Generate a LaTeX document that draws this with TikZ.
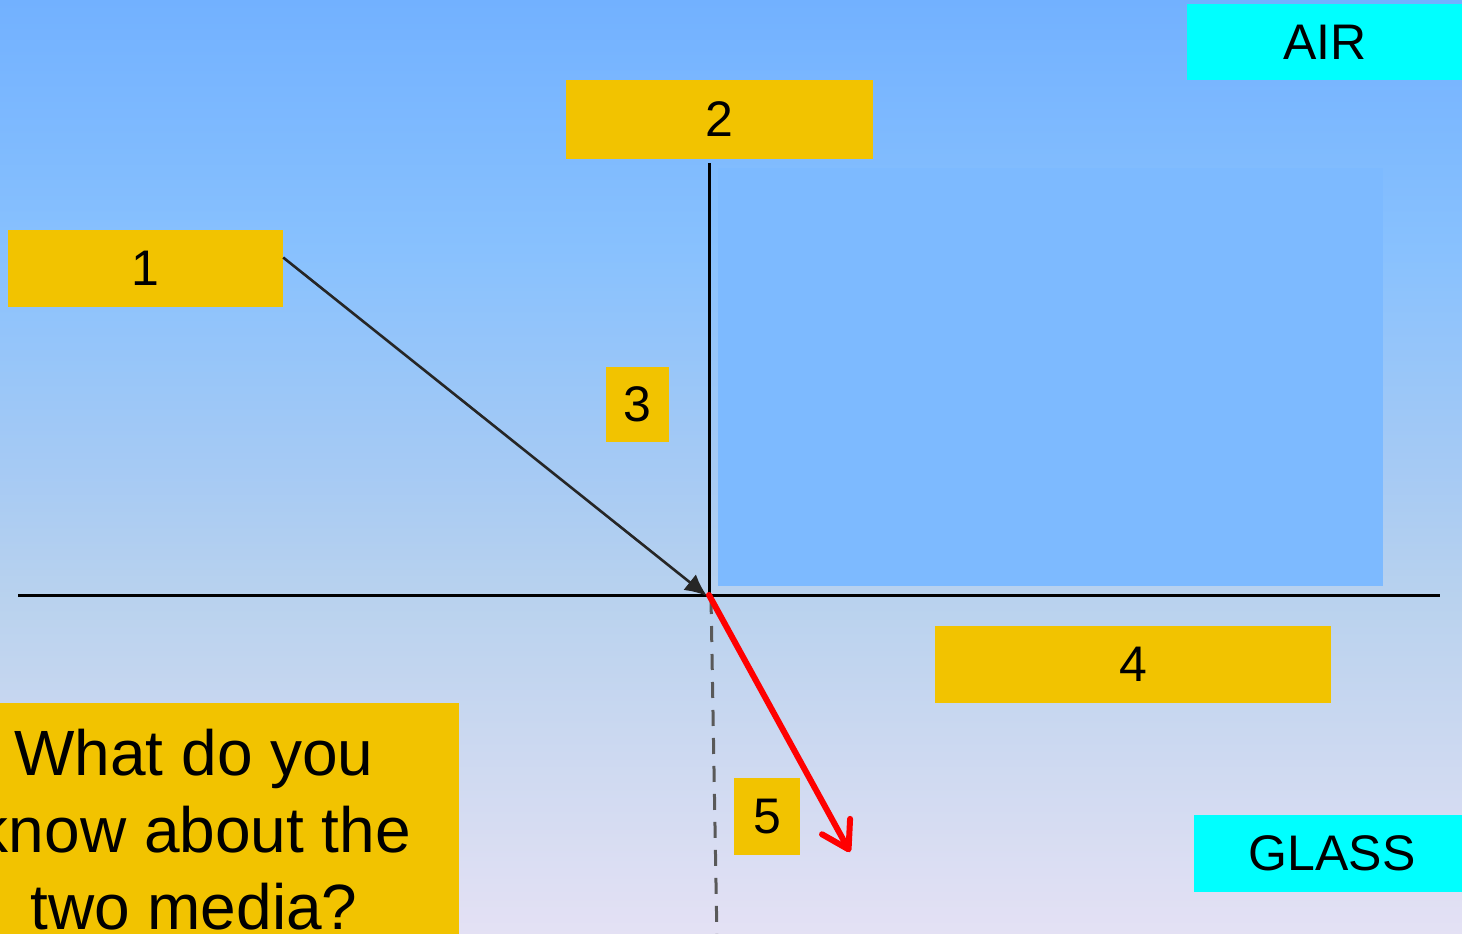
\documentclass[tikz,border=0pt]{standalone}
\usepackage{fontspec}
\setmainfont{Liberation Sans}
\usetikzlibrary{arrows.meta,calc}
\definecolor{bgA}{HTML}{72B1FF}
\definecolor{bgB}{HTML}{88C1FE}
\definecolor{bgC}{HTML}{A6CAF4}
\definecolor{bgD}{HTML}{B9D2EE}
\definecolor{bgE}{HTML}{E4E1F4}
\definecolor{panel}{HTML}{7DBAFF}
\definecolor{labelyellow}{HTML}{F2C300}
\definecolor{labelcyan}{HTML}{00FFFF}
\definecolor{dashgray}{HTML}{595959}
\pgfdeclareverticalshading{bgshade}{100bp}{color(0bp)=(bgE); color(25bp)=(bgE); color(42.9bp)=(bgD); color(49.8bp)=(bgC); color(61.6bp)=(bgB); color(75bp)=(bgA); color(100bp)=(bgA)}
\tikzset{
  lbl/.style={fill=labelyellow, inner sep=0pt, font=\fontsize{50}{60}\selectfont},
  medium/.style={fill=labelcyan, inner sep=0pt, font=\fontsize{50}{60}\selectfont},
  axisline/.style={line width=3pt, black},
  incident/.style={line width=2.6pt, draw={black!85}, -{Latex[length=22pt,width=20pt]}},
  refracted/.style={line width=6pt, red, line cap=round, -{Straight Barb[length=26pt,width=32pt,round]}},
  normalext/.style={line width=3pt, dashgray, dash pattern=on 16pt off 12pt}
}
\begin{document}
\begin{tikzpicture}[x=1pt,y=-1pt]
\clip (0,0) rectangle (1462,934);
\shade[shading=bgshade] (0,0) rectangle (1462,934);
\fill[panel] (718,168) rectangle (1383,586);

% labels
\node[lbl, minimum width=275pt, minimum height=77pt] (n1) at (145.5,268.5) {1};
\node[lbl, minimum width=307pt, minimum height=79pt] (n2) at (719.5,119.5) {2};
\node[lbl, minimum width=63pt, minimum height=75pt] (n3) at (637.5,404.5) {3};
\node[lbl, minimum width=396pt, minimum height=77pt] (n4) at (1133,664.5) {4};
\node[lbl, minimum width=66pt, minimum height=77pt] (n5) at (767,816.5) {5};
\node[medium, minimum width=276pt, minimum height=76pt] (air) at (1325,42) {AIR};
\node[medium, minimum width=276pt, minimum height=77pt] (glass) at (1332,853.5) {GLASS};

% question
\node[fill=labelyellow, inner sep=0pt, minimum width=459pt, minimum height=240pt, anchor=north west] (qbox) at (0,703) {};
\node[inner sep=0pt, align=center, anchor=north, font=\fontsize{64}{77}\selectfont] (qtext) at (194,729) {What do you\\know about the\\two media?};

% geometry
\coordinate (o) at (709,595);
\coordinate (sl) at (18,595);
\coordinate (sr) at (1440,595);
\coordinate (ntop) at (709,163);
\coordinate (r) at (850,852);
\coordinate (dtop) at (711,598);
\coordinate (dbot) at (717,940);

\draw[axisline] (sl) -- (sr);
\draw[axisline] (ntop) -- (o);
\draw[normalext] (dtop) -- (dbot);
\draw[incident] ([yshift=11pt]n1.east) -- ([shift={(-2pt,-1pt)}]o);
\draw[refracted] (o) -- (r);
\end{tikzpicture}
\end{document}
